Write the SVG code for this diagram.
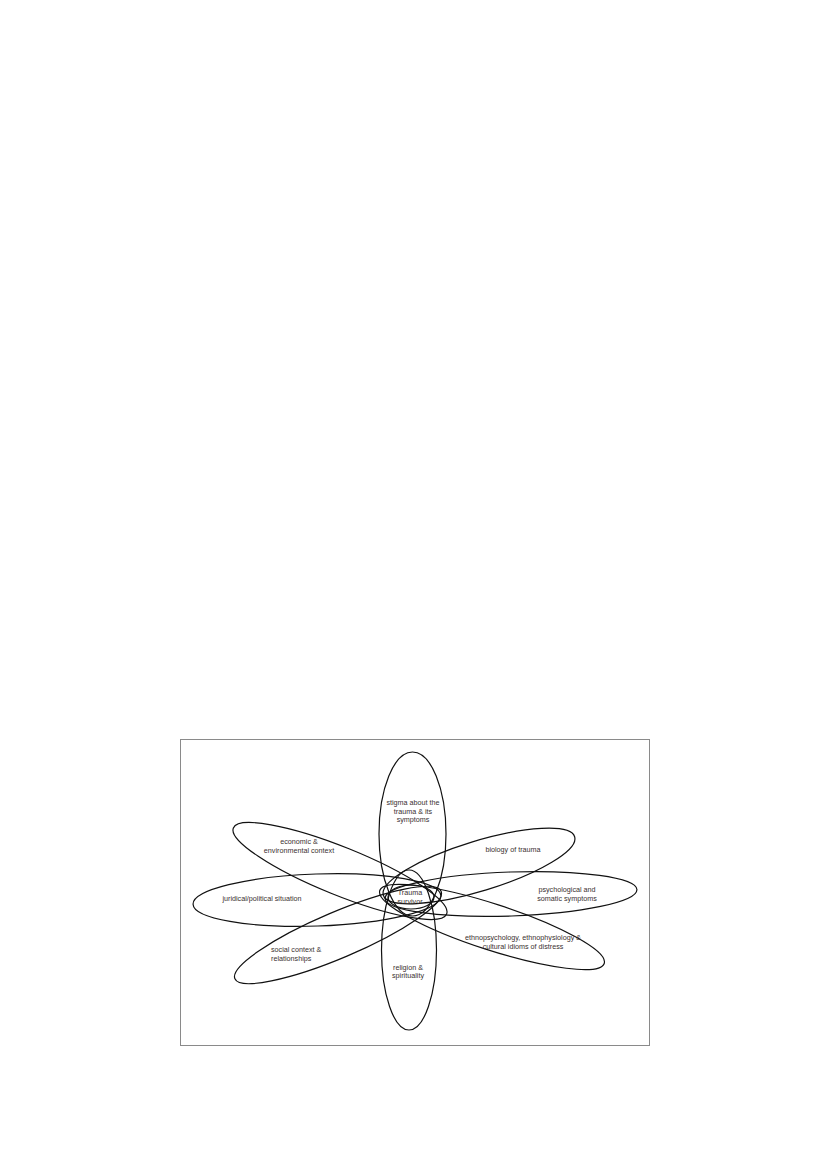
<svg xmlns="http://www.w3.org/2000/svg" width="827" height="1169" viewBox="0 0 827 1169">
<style>
.frame{fill:none;stroke:#8a8a8a;stroke-width:1}
.ring{fill:none;stroke:#111;stroke-width:1.2}
.lbl{font-family:"Liberation Sans",Arial,sans-serif;font-size:7.2px;fill:#3a3030;text-anchor:middle}
.left{text-anchor:start}
</style>
<rect width="827" height="1169" fill="#fff"/>
<rect class="frame" x="180.5" y="739.5" width="469" height="306"/>
<g id="connectors"></g>
<g id="stigma">
<ellipse class="ring" cx="412.5" cy="834" rx="33.5" ry="82"/>
<text class="lbl" x="413" y="804.5">stigma about the</text>
<text class="lbl" x="413" y="813.5">trauma &amp; its</text>
<text class="lbl" x="413" y="822">symptoms</text>
</g>
<g id="religion">
<ellipse class="ring" cx="409" cy="950" rx="27.5" ry="80"/>
<text class="lbl" x="408" y="969.5">religion &amp;</text>
<text class="lbl" x="408" y="978">spirituality</text>
</g>
<g id="economic">
<ellipse class="ring" cx="340" cy="871" rx="115" ry="24" transform="rotate(22 340 871)"/>
<text class="lbl" x="299" y="843.5">economic &amp;</text>
<text class="lbl" x="299" y="852.5">environmental context</text>
</g>
<g id="juridical">
<ellipse class="ring" cx="317" cy="900" rx="124" ry="26" transform="rotate(-2 317 900)"/>
<text class="lbl" x="262" y="900.5">juridical/political situation</text>
</g>
<g id="social">
<ellipse class="ring" cx="338" cy="935" rx="112" ry="23" transform="rotate(-23 338 935)"/>
<text class="lbl left" x="271" y="951.5">social context &amp;</text>
<text class="lbl left" x="271" y="960.5">relationships</text>
</g>
<g id="biology">
<ellipse class="ring" cx="479" cy="866" rx="100" ry="25" transform="rotate(-17 479 866)"/>
<text class="lbl" x="513" y="851.5">biology of trauma</text>
</g>
<g id="psychological">
<ellipse class="ring" cx="511" cy="894" rx="126" ry="22" transform="rotate(-2 511 894)"/>
<text class="lbl" x="567" y="891.5">psychological and</text>
<text class="lbl" x="567" y="900.5">somatic symptoms</text>
</g>
<g id="ethno">
<ellipse class="ring" cx="492" cy="927" rx="118" ry="23" transform="rotate(18 492 927)"/>
<text class="lbl" x="523" y="939.5">ethnopsychology, ethnophysiology &amp;</text>
<text class="lbl" x="523" y="948.5">cultural idioms of distress</text>
</g>
<g id="survivor">
<ellipse class="ring" cx="411" cy="897" rx="23" ry="12"/>
<text class="lbl" x="410" y="894.5">Trauma</text>
<text class="lbl" x="410" y="903.5">survivor</text>
</g>
</svg>
